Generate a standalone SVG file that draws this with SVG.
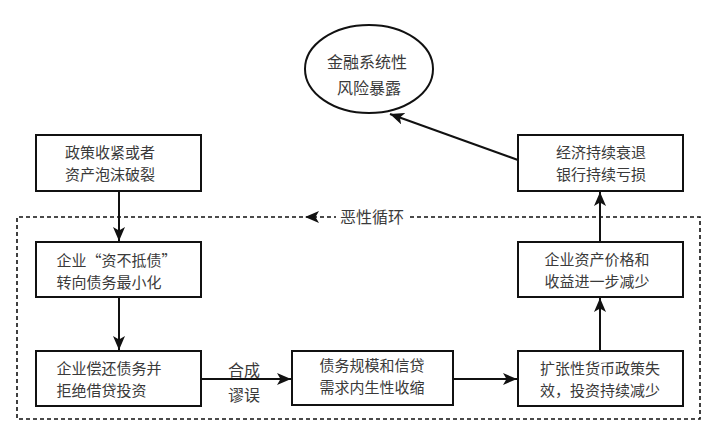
<svg xmlns="http://www.w3.org/2000/svg" width="714" height="434" viewBox="0 0 714 434">
<style>
.box{fill:#fff;stroke:#111;stroke-width:2}
.t{font-family:"Noto Sans CJK SC","Noto Sans",sans-serif;font-size:16px;fill:#3a3a3a}
.s{font-size:15px}
.ln{stroke:#111;stroke-width:2;fill:none}
.dash{stroke:#111;stroke-width:1.6;fill:none;stroke-dasharray:4 3}
</style>
<defs>
<marker id="ah" viewBox="0 0 14 12" refX="14" refY="6" markerWidth="14" markerHeight="12" markerUnits="userSpaceOnUse" orient="auto">
<path d="M0,0 L14,6 L0,12 L3.5,6 Z" fill="#111"/>
</marker>
</defs>
<rect width="714" height="434" fill="#fff"/>
<g id="loop">
<path class="dash" d="M410,217 H700 V419 H17 V217 H336"/>
<path d="M305,217 L319,211 L315.5,217 L319,223 Z" fill="#111"/>
<text class="t" x="340" y="222.5">恶性循环</text>
</g>
<g id="connectors">
<line class="ln" x1="119" y1="191" x2="119" y2="241" marker-end="url(#ah)"/>
<line class="ln" x1="119" y1="297" x2="119" y2="350" marker-end="url(#ah)"/>
<line class="ln" x1="201" y1="379" x2="291" y2="379" marker-end="url(#ah)"/>
<line class="ln" x1="453" y1="379" x2="517" y2="379" marker-end="url(#ah)"/>
<line class="ln" x1="600" y1="351" x2="600" y2="298" marker-end="url(#ah)"/>
<line class="ln" x1="600" y1="242" x2="600" y2="192" marker-end="url(#ah)"/>
<line class="ln" x1="518" y1="160" x2="390" y2="114" marker-end="url(#ah)"/>
<text class="t"><tspan x="228" y="375.5">合成</tspan><tspan x="228" y="400.5">谬误</tspan></text>
</g>
<g id="n-risk">
<ellipse cx="369" cy="69" rx="64" ry="44" fill="#fff" stroke="#111" stroke-width="2"/>
<text class="t"><tspan x="327" y="68">金融系统性</tspan><tspan x="337" y="94">风险暴露</tspan></text>
</g>
<g id="n-policy">
<rect class="box" x="36" y="135" width="165" height="56"/>
<text class="t s"><tspan x="65" y="158">政策收紧或者</tspan><tspan x="65" y="180">资产泡沫破裂</tspan></text>
</g>
<g id="n-insolvent">
<rect class="box" x="36" y="242" width="165" height="55"/>
<text class="t s"><tspan x="56.5" y="265.7">企业“资不抵债”</tspan><tspan x="56.5" y="287.7">转向债务最小化</tspan></text>
</g>
<g id="n-repay">
<rect class="box" x="36" y="351" width="165" height="55"/>
<text class="t s"><tspan x="56.5" y="373.7">企业偿还债务并</tspan><tspan x="56.5" y="395.7">拒绝借贷投资</tspan></text>
</g>
<g id="n-credit">
<rect class="box" x="292" y="351" width="161" height="54"/>
<text class="t s"><tspan x="319.5" y="371.4">债务规模和信贷</tspan><tspan x="319.5" y="393.4">需求内生性收缩</tspan></text>
</g>
<g id="n-monetary">
<rect class="box" x="518" y="351" width="165" height="55"/>
<text class="t s"><tspan x="540" y="373.7">扩张性货币政策失</tspan><tspan x="540" y="395.7">效，投资持续减少</tspan></text>
</g>
<g id="n-asset">
<rect class="box" x="518" y="242" width="165" height="55"/>
<text class="t s"><tspan x="544.5" y="264.7">企业资产价格和</tspan><tspan x="544.5" y="286.7">收益进一步减少</tspan></text>
</g>
<g id="n-recession">
<rect class="box" x="518" y="135" width="165" height="56"/>
<text class="t s"><tspan x="556" y="158">经济持续衰退</tspan><tspan x="556" y="180">银行持续亏损</tspan></text>
</g>
</svg>
